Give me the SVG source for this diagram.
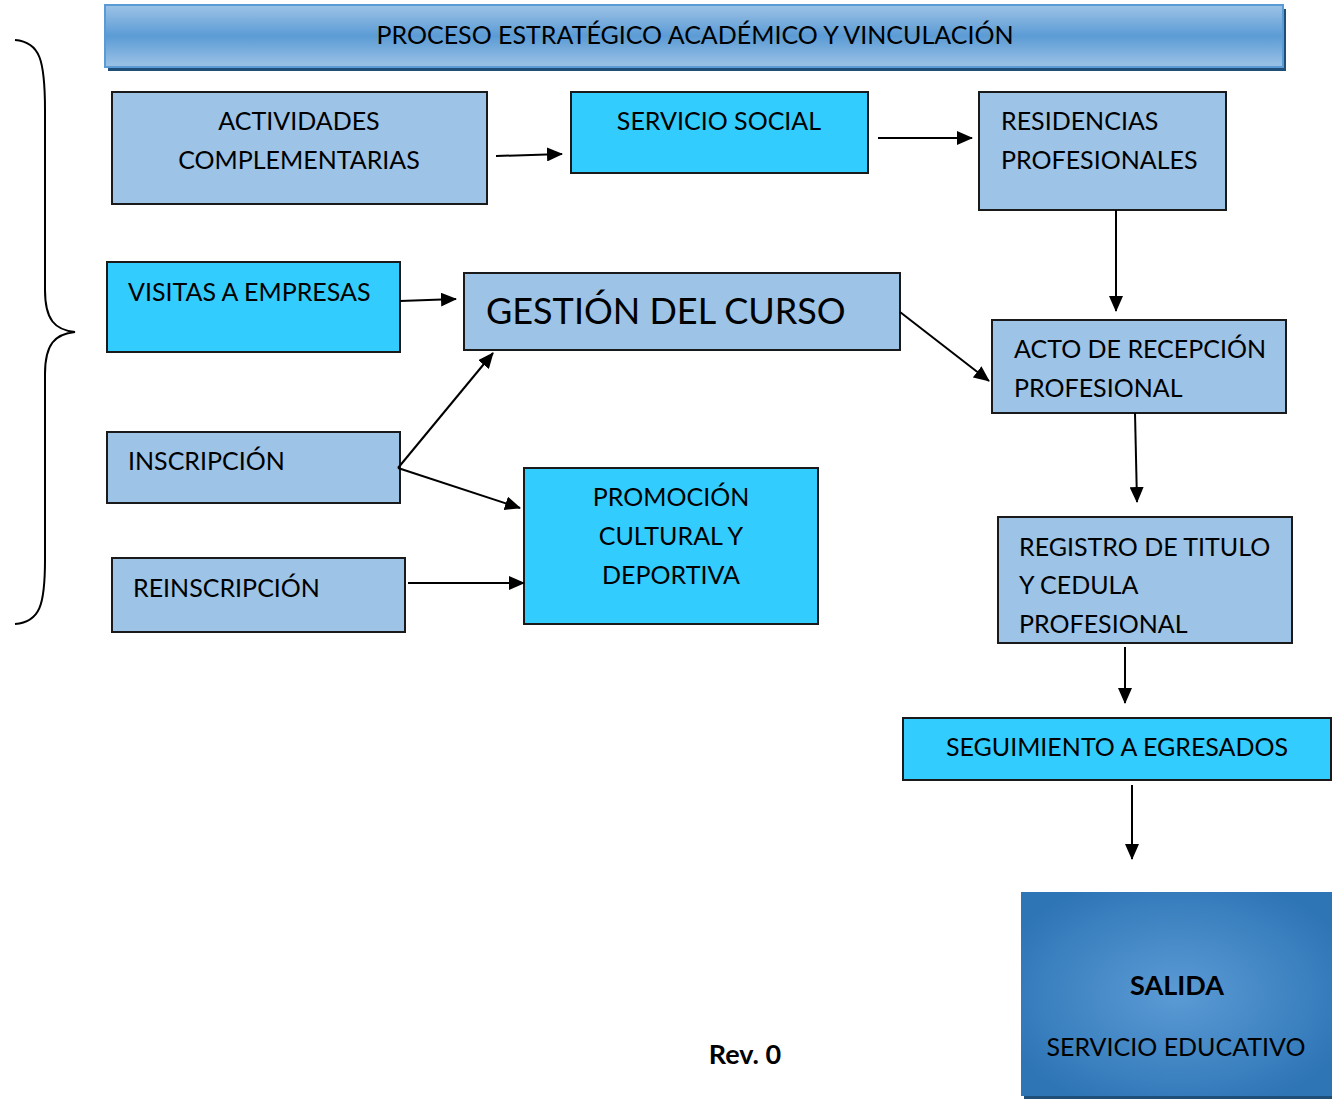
<svg xmlns="http://www.w3.org/2000/svg" width="1332" height="1099" viewBox="0 0 1332 1099">
<style>
text{font-family:Lato,"Open Sans","Liberation Sans",sans-serif;fill:#000;font-size:25px}
.big{font-size:36px}
.bd{font-weight:bold;font-size:27px}
.lb{fill:#9DC3E6;stroke:#1a1a1a;stroke-width:2}
.cy{fill:#33CCFF;stroke:#1a1a1a;stroke-width:2}
.c{text-anchor:middle}
.conn line,.conn path{stroke:#000;stroke-width:2;fill:none}
</style>
<defs>
<marker id="ah" markerWidth="16" markerHeight="14" refX="15" refY="7" orient="auto" markerUnits="userSpaceOnUse" viewBox="0 0 16 14">
<path d="M0,0 L16,7 L0,14 z" fill="#000"/>
</marker>
<linearGradient id="tg" x1="0" y1="0" x2="0" y2="1">
<stop offset="0" stop-color="#9DC3E6"/>
<stop offset="0.5" stop-color="#5B9BD5"/>
<stop offset="1" stop-color="#9DC3E6"/>
</linearGradient>
<radialGradient id="sg" cx="0.5" cy="0.5" r="0.6">
<stop offset="0" stop-color="#5B9BD5"/>
<stop offset="1" stop-color="#2E75B6"/>
</radialGradient>
</defs>
<g id="title">
<rect x="108" y="9" width="1178" height="62" fill="#1F4E79"/>
<rect x="105" y="5" width="1178" height="62" fill="url(#tg)" stroke="#5B9BD5" stroke-width="2"/>
<text x="695" y="44" class="c">PROCESO ESTRATÉGICO ACADÉMICO Y VINCULACIÓN</text>
</g>
<g id="brace">
<path d="M15,40 C40,42 45,60 45,110 L45,290 C45,320 55,330 75,332 C55,334 45,344 45,374 L45,560 C45,605 40,622 15,624" fill="none" stroke="#000" stroke-width="2"/>
</g>
<g id="actividades">
<rect class="lb" x="112" y="92" width="375" height="112"/>
<text x="299" y="130" class="c">ACTIVIDADES</text>
<text x="299" y="169" class="c">COMPLEMENTARIAS</text>
</g>
<g id="servicio-social">
<rect class="cy" x="571" y="92" width="297" height="81"/>
<text x="719" y="130" class="c">SERVICIO SOCIAL</text>
</g>
<g id="residencias">
<rect class="lb" x="979" y="92" width="247" height="118"/>
<text x="1001" y="130">RESIDENCIAS</text>
<text x="1001" y="169">PROFESIONALES</text>
</g>
<g id="visitas">
<rect class="cy" x="107" y="262" width="293" height="90"/>
<text x="128" y="301">VISITAS A EMPRESAS</text>
</g>
<g id="gestion">
<rect class="lb" x="464" y="273" width="436" height="77"/>
<text x="486" y="324" class="big">GESTIÓN DEL CURSO</text>
</g>
<g id="inscripcion">
<rect class="lb" x="107" y="432" width="293" height="71"/>
<text x="128" y="470">INSCRIPCIÓN</text>
</g>
<g id="reinscripcion">
<rect class="lb" x="112" y="558" width="293" height="74"/>
<text x="133" y="597">REINSCRIPCIÓN</text>
</g>
<g id="promocion">
<rect class="cy" x="524" y="468" width="294" height="156"/>
<text x="671" y="506" class="c">PROMOCIÓN</text>
<text x="671" y="545" class="c">CULTURAL Y</text>
<text x="671" y="584" class="c">DEPORTIVA</text>
</g>
<g id="acto">
<rect class="lb" x="992" y="320" width="294" height="93"/>
<text x="1014" y="358">ACTO DE RECEPCIÓN</text>
<text x="1014" y="397">PROFESIONAL</text>
</g>
<g id="registro">
<rect class="lb" x="998" y="517" width="294" height="126"/>
<text x="1019" y="556">REGISTRO DE TITULO</text>
<text x="1019" y="594">Y CEDULA</text>
<text x="1019" y="633">PROFESIONAL</text>
</g>
<g id="seguimiento">
<rect class="cy" x="903" y="718" width="428" height="62"/>
<text x="1117" y="756" class="c">SEGUIMIENTO A EGRESADOS</text>
</g>
<g id="salida">
<rect x="1024" y="895" width="310" height="205" fill="#1F4E79"/>
<rect x="1021" y="892" width="311" height="204" fill="url(#sg)"/>
<text x="1177" y="995" class="c bd">SALIDA</text>
<text x="1176" y="1056" class="c">SERVICIO EDUCATIVO</text>
</g>
<g id="rev">
<text x="745" y="1064" class="c bd">Rev. 0</text>
</g>
<g class="conn" id="connectors">
<line x1="496" y1="156" x2="562" y2="154" marker-end="url(#ah)"/>
<line x1="878" y1="138" x2="972" y2="138" marker-end="url(#ah)"/>
<line x1="1116" y1="210" x2="1116" y2="311" marker-end="url(#ah)"/>
<line x1="400" y1="301" x2="456" y2="299" marker-end="url(#ah)"/>
<line x1="900" y1="312" x2="989" y2="381" marker-end="url(#ah)"/>
<line x1="398" y1="468" x2="493" y2="353" marker-end="url(#ah)"/>
<line x1="398" y1="468" x2="520" y2="508" marker-end="url(#ah)"/>
<line x1="408" y1="583" x2="524" y2="583" marker-end="url(#ah)"/>
<line x1="1135" y1="413" x2="1137" y2="502" marker-end="url(#ah)"/>
<line x1="1125" y1="647" x2="1125" y2="703" marker-end="url(#ah)"/>
<line x1="1132" y1="785" x2="1132" y2="859" marker-end="url(#ah)"/>
</g>
</svg>
